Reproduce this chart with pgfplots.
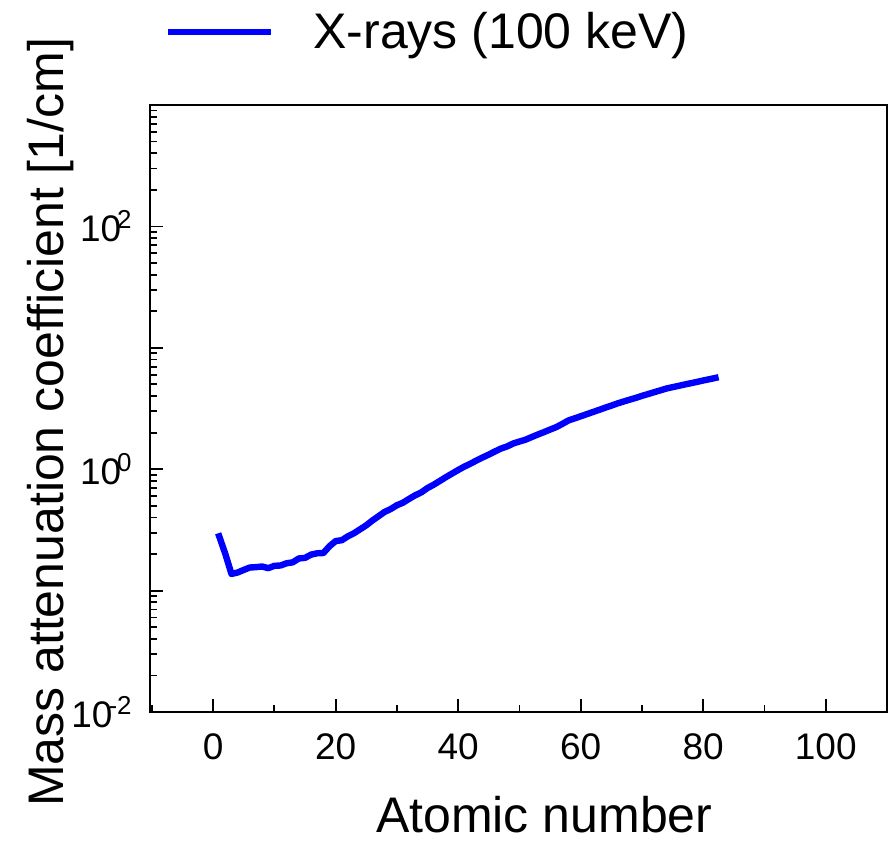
\documentclass[border=0pt]{standalone}
\usepackage{fontspec}
\setmainfont{Liberation Sans}
\usepackage{pgfplots}
\pgfplotsset{compat=1.18}
\usepackage{pgfplotstable}
\pgfplotstableread{
Z mu
1 0.280
2 0.200
3 0.137
4 0.141
5 0.148
6 0.155
7 0.156
8 0.158
9 0.153
10 0.160
11 0.161
12 0.168
13 0.171
14 0.184
15 0.186
16 0.198
17 0.203
18 0.204
19 0.232
20 0.256
21 0.260
22 0.280
23 0.297
24 0.320
25 0.345
26 0.378
27 0.410
28 0.445
29 0.470
30 0.505
31 0.530
32 0.570
33 0.610
34 0.645
35 0.700
36 0.745
37 0.800
38 0.860
39 0.920
40 0.985
41 1.05
42 1.11
43 1.18
44 1.25
45 1.32
46 1.40
47 1.48
48 1.54
49 1.63
50 1.69
51 1.75
52 1.84
53 1.93
54 2.02
55 2.12
56 2.22
57 2.36
58 2.52
59 2.62
60 2.73
61 2.84
62 2.96
63 3.08
64 3.21
65 3.34
66 3.48
67 3.61
68 3.74
69 3.87
70 4.02
71 4.16
72 4.31
73 4.46
74 4.62
75 4.74
76 4.86
77 4.99
78 5.11
79 5.24
80 5.38
81 5.51
82 5.65
}\xraydata
\begin{document}
\begin{tikzpicture}[x=1pt,y=1pt]
\useasboundingbox (0,0) rectangle (444,421);
\begin{axis}[
  at={(75pt,65pt)}, anchor=south west,
  scale only axis, width=368.5pt, height=303.5pt,
  ymode=log, log basis y=10,
  xmin=-10.3, xmax=110, ymin=1e-2, ymax=1e3,
  axis line style={line width=1pt},
  tick align=inside, xtick pos=bottom, ytick pos=left,
  major tick length=6.3pt, minor tick length=3.6pt,
  every tick/.style={black, line width=0.9pt},
  xtick={0,20,40,60,80,100},
  xticklabels={0,20,40,60,80,100},
  minor xtick={-10,10,30,50,70,90},
  ytick={1e-2,1e-1,1,1e1,1e2,1e3},
  yticklabels={10\kern-2pt\textsuperscript{-2},,10\kern-2pt\textsuperscript{0},,10\kern-2pt\textsuperscript{2},},
  minor ytick={2e-2,3e-2,4e-2,5e-2,6e-2,7e-2,8e-2,9e-2,0.2,0.3,0.4,0.5,0.6,0.7,0.8,0.9,2,3,4,5,6,7,8,9,20,30,40,50,60,70,80,90,200,300,400,500,600,700,800,900},
  xticklabel style={font=\fontsize{18.5}{22}\selectfont, anchor=north, inner sep=0pt, yshift=-10.5pt},
  yticklabel style={font=\fontsize{18.5}{22}\selectfont, anchor=east, inner sep=0pt, xshift=-8.5pt},
  xlabel={Atomic number},
  ylabel={Mass attenuation coefficient [1/cm]},
  xlabel style={font=\fontsize{25}{30}\selectfont, inner sep=0pt, at={(rel axis cs:0.535,-0.199)}, anchor=base},
  ylabel style={font=\fontsize{25}{30}\selectfont, inner sep=0pt, at={(rel axis cs:-0.1167,0.477)}, anchor=base, rotate=0},
  legend style={draw=none, fill=none, at={(rel axis cs:0.0204,1.1203)}, anchor=west,
    inner sep=0pt, outer sep=0pt, column sep=19.5pt,
    font=\fontsize{25}{30}\selectfont, nodes={inner sep=0pt}},
  legend image code/.code={\draw[#1, line cap=butt] (0pt,0pt) -- (51.5pt,0pt);},
  legend cell align=left,
]
\addplot[color={rgb,255:red,0;green,0;blue,255}, line width=3.2pt, line join=round, line cap=rect] table[x=Z, y=mu] {\xraydata};
\addlegendentry{X-rays (100 keV)}
\end{axis}
\end{tikzpicture}
\end{document}
